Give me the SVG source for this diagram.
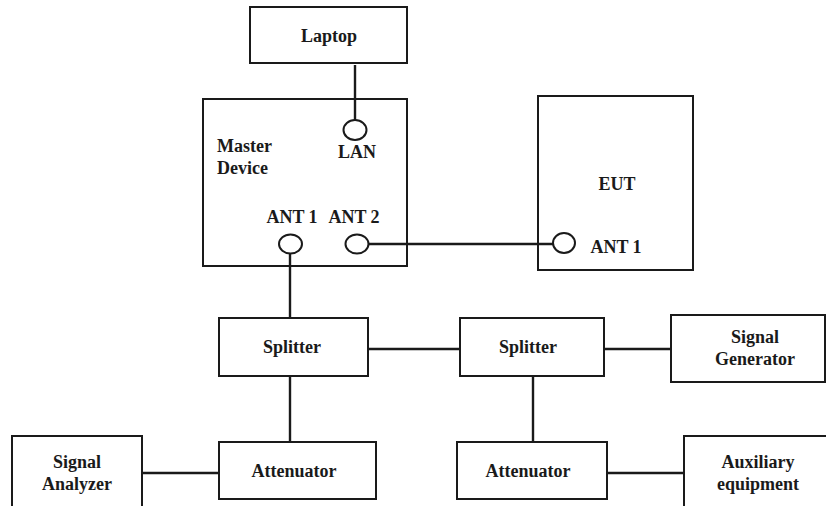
<svg xmlns="http://www.w3.org/2000/svg" width="826" height="506" viewBox="0 0 826 506">
<style>
.box{fill:none;stroke:#1a1a1a;stroke-width:2}
.port{fill:#fff;stroke:#1a1a1a;stroke-width:2}
.wire{stroke:#1a1a1a;stroke-width:2.4;fill:none}
text{font-family:"Liberation Serif","Times New Roman",serif;font-weight:bold;font-size:18px;fill:#1a1a1a}
.c{text-anchor:middle}
</style>
<rect width="826" height="506" fill="#fff"/>
<g id="connectors">
<line class="wire" x1="355" y1="65" x2="355" y2="120"/>
<line class="wire" x1="368" y1="244" x2="553" y2="244"/>
<line class="wire" x1="290" y1="254" x2="290" y2="318"/>
<line class="wire" x1="368" y1="349" x2="460" y2="349"/>
<line class="wire" x1="604" y1="349" x2="671" y2="349"/>
<line class="wire" x1="290" y1="376" x2="290" y2="442"/>
<line class="wire" x1="533" y1="376" x2="533" y2="442"/>
<line class="wire" x1="142" y1="473" x2="219" y2="473"/>
<line class="wire" x1="607" y1="473" x2="684" y2="473"/>
</g>
<g id="laptop">
<rect class="box" x="250" y="7" width="157" height="56"/>
<text class="c" x="329" y="42">Laptop</text>
</g>
<g id="master-device">
<rect class="box" x="203" y="99" width="204" height="167"/>
<text x="217" y="152">Master</text>
<text x="217" y="174">Device</text>
<ellipse class="port" cx="355" cy="130" rx="11.5" ry="10"/>
<text class="c" x="357" y="158">LAN</text>
<text class="c" x="292" y="223">ANT 1</text>
<text class="c" x="354" y="223">ANT 2</text>
<ellipse class="port" cx="290.5" cy="244" rx="11.5" ry="9.5"/>
<ellipse class="port" cx="357" cy="244" rx="11.5" ry="9.5"/>
</g>
<g id="eut">
<rect class="box" x="538" y="96" width="155" height="174"/>
<text class="c" x="617" y="190">EUT</text>
<ellipse class="port" cx="564" cy="243" rx="11" ry="10"/>
<text class="c" x="616" y="253">ANT 1</text>
</g>
<g id="splitter1">
<rect class="box" x="219" y="318" width="149" height="58"/>
<text class="c" x="292" y="353">Splitter</text>
</g>
<g id="splitter2">
<rect class="box" x="460" y="318" width="144" height="58"/>
<text class="c" x="528" y="353">Splitter</text>
</g>
<g id="signal-generator">
<rect class="box" x="671" y="315" width="154" height="67"/>
<text class="c" x="755" y="343">Signal</text>
<text class="c" x="755" y="365">Generator</text>
</g>
<g id="attenuator1">
<rect class="box" x="219" y="442" width="157" height="57"/>
<text class="c" x="294" y="477">Attenuator</text>
</g>
<g id="attenuator2">
<rect class="box" x="457" y="442" width="150" height="57"/>
<text class="c" x="528" y="477">Attenuator</text>
</g>
<g id="signal-analyzer">
<rect class="box" x="12" y="436" width="130" height="80"/>
<text class="c" x="77" y="468">Signal</text>
<text class="c" x="77" y="490">Analyzer</text>
</g>
<g id="auxiliary-equipment">
<rect class="box" x="684" y="436" width="160" height="80"/>
<text class="c" x="758" y="468">Auxiliary</text>
<text class="c" x="758" y="490">equipment</text>
</g>
</svg>
